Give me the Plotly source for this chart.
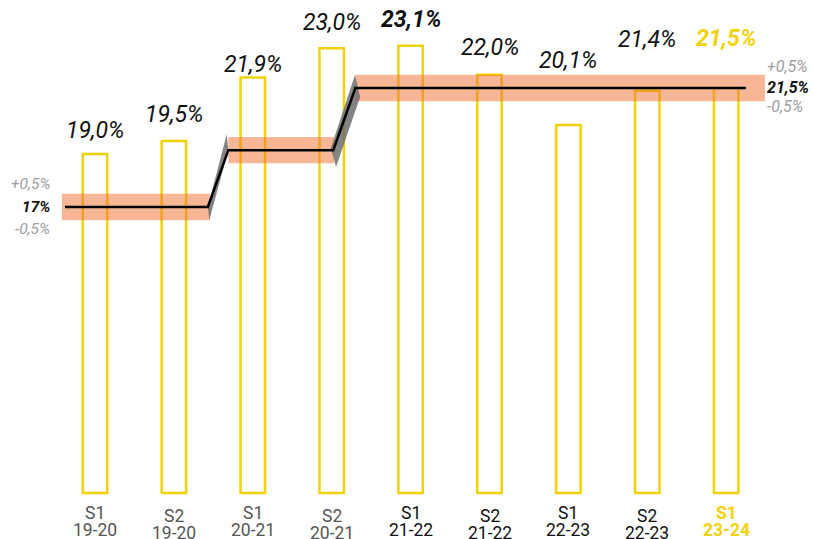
import plotly.graph_objects as go

# ---------------- data ----------------
semesters = ["S1", "S2", "S1", "S2", "S1", "S2", "S1", "S2", "S1"]
years = ["19-20", "19-20", "20-21", "20-21", "21-22", "21-22", "22-23", "22-23", "23-24"]
values = [19.0, 19.5, 21.9, 23.0, 23.1, 22.0, 20.1, 21.4, 21.5]

# target levels (step line) and their extents along the category axis
levels = [17.0, 19.15, 21.5]
level_start = [-0.38, 1.69, 3.30]
level_end = [1.43, 3.02, 8.25]
band_start = [-0.42, 1.69, 3.30]
band_end = [1.46, 3.03, 8.49]
tolerance = 0.5
left_labels = ["+0,5%", "17%", "-0,5%"]
right_labels = ["+0,5%", "21,5%", "-0,5%"]

# ---------------- style ----------------
FONT = "Roboto"
YELLOW = "#F4D20A"
BAND = "rgba(240,112,48,0.5)"
GREY_RIBBON = "rgba(105,105,105,0.82)"
BAR_BASE = 6.185
W, H = 813, 539
label_shift = [24, 26, 13, 26, 26, 27, 65, 51, 50]
label_bold = [False, False, False, False, True, False, False, False, True]
label_color = ["#111"] * 8 + [YELLOW]
tick_color = ["#555"] * 4 + ["#111"] * 4 + [YELLOW]
# ribbon offsets per step: (dx,dy, anchor) around (end of level k) and (start of level k+1)
ribbon_offsets = [
    [(0.0, 0.0, 0), (-0.02, 0.60, 1), (0.0, 0.0, 1), (0.02, -0.48, 0)],
    [(-0.03, 0.08, 0), (0.035, -0.64, 0), (0.06, -0.34, 1), (-0.005, 0.49, 1)],
]


def fmt(v):
    return f"{v:.1f}".replace(".", ",") + "%"


fig = go.Figure()

# bars
fig.add_trace(go.Bar(
    x=list(range(len(values))),
    y=[v - BAR_BASE for v in values],
    base=BAR_BASE,
    width=0.31,
    marker=dict(color="white", line=dict(color=YELLOW, width=2.5)),
    hoverinfo="skip",
    showlegend=False,
))

# tolerance bands
for L, a, b in zip(levels, band_start, band_end):
    fig.add_trace(go.Scatter(
        x=[a, b, b, a, a],
        y=[L - tolerance, L - tolerance, L + tolerance, L + tolerance, L - tolerance],
        mode="lines", fill="toself", fillcolor=BAND,
        line=dict(width=0), hoverinfo="skip", showlegend=False,
    ))

# grey ribbons on the steps
for k, offs in enumerate(ribbon_offsets):
    pts = [(level_end[k], levels[k]), (level_start[k + 1], levels[k + 1])]
    xs = [pts[p][0] + dx for dx, dy, p in offs]
    ys = [pts[p][1] + dy for dx, dy, p in offs]
    fig.add_trace(go.Scatter(
        x=xs + [xs[0]], y=ys + [ys[0]],
        mode="lines", fill="toself", fillcolor=GREY_RIBBON,
        line=dict(width=0), hoverinfo="skip", showlegend=False,
    ))

# step line
lx, ly = [], []
for L, a, b in zip(levels, level_start, level_end):
    lx += [a, b]
    ly += [L, L]
fig.add_trace(go.Scatter(
    x=lx, y=ly, mode="lines", line=dict(color="black", width=2.5),
    hoverinfo="skip", showlegend=False,
))

ann = []
# value labels
for i, v in enumerate(values):
    t = fmt(v)
    t = f"<b><i>{t}</i></b>" if label_bold[i] else f"<i>{t}</i>"
    ann.append(dict(x=i, y=v, xref="x", yref="y", text=t, showarrow=False,
                    yanchor="middle", yshift=label_shift[i],
                    font=dict(family=FONT, size=23, color=label_color[i])))

# category labels
for i, (s, yr) in enumerate(zip(semesters, years)):
    py = 513 if s == "S1" else 516
    for txt, p in ((s, py), (yr, py + 17)):
        t = f"<b>{txt}</b>" if i == len(values) - 1 else txt
        ann.append(dict(x=i, y=1 - p / H, xref="x", yref="paper", text=t,
                        showarrow=False, yanchor="middle",
                        font=dict(family=FONT, size=17.5, color=tick_color[i])))

# band labels: left of first band, right of last band
for txt, sh in zip(left_labels, [23, 0, -22]):
    bold = not txt.startswith(("+", "-"))
    t = f"<b><i>{txt}</i></b>" if bold else f"<i>{txt}</i>"
    ann.append(dict(x=band_start[0], y=levels[0], xref="x", yref="y", text=t,
                    showarrow=False, xanchor="right", yanchor="middle",
                    xshift=-10, yshift=sh,
                    font=dict(family=FONT, size=15.5, color="#111" if bold else "#9E9E9E")))
for txt, sh in zip(right_labels, [22, 1, -18]):
    bold = not txt.startswith(("+", "-"))
    t = f"<b><i>{txt}</i></b>" if bold else f"<i>{txt}</i>"
    ann.append(dict(x=band_end[-1], y=levels[-1], xref="x", yref="y", text=t,
                    showarrow=False, xanchor="left", yanchor="middle",
                    xshift=0, yshift=sh,
                    font=dict(family=FONT, size=16, color="#111" if bold else "#9E9E9E")))

fig.update_layout(
    width=W, height=H,
    margin=dict(l=0, r=0, t=0, b=0),
    paper_bgcolor="white", plot_bgcolor="white",
    xaxis=dict(range=[-1.204, 9.10], visible=False, fixedrange=True),
    yaxis=dict(range=[4.445, 24.828], visible=False, fixedrange=True),
    annotations=ann,
    bargap=0,
    showlegend=False,
)

fig.write_html(
    "out.html",
    config={"displayModeBar": False, "staticPlot": True},
    post_script="document.body.style.margin='0';document.body.style.padding='0';document.body.style.overflow='hidden';",
)
